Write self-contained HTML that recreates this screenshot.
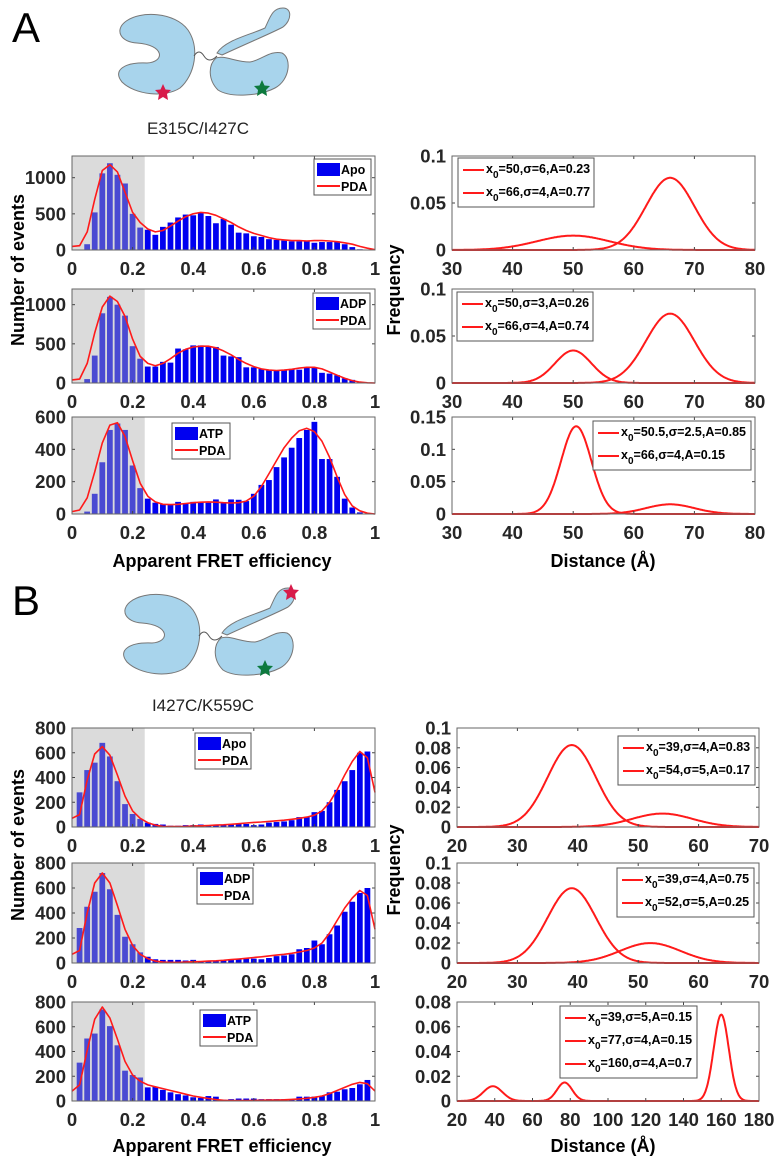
<!DOCTYPE html>
<html><head><meta charset="utf-8">
<style>
html,body{margin:0;padding:0;background:#fff;}
svg{display:block;font-family:"Liberation Sans",Arial,sans-serif;}
.tick{font-size:18.5px;font-weight:bold;fill:#262626;}
.ttl{font-size:18px;font-weight:bold;fill:#000;}
.leg{font-size:12.5px;font-weight:bold;fill:#000;}
</style></head>
<body>
<svg id="fig" width="774" height="1156" viewBox="0 0 774 1156">
  <text x="12" y="42" font-size="42" fill="#000">A</text>
  <text x="12" y="615" font-size="42" fill="#000">B</text>
  <g id="cartoonA">
    <path d="M137,43 C120,42 115,30 125,22 C140,10 175,12 188,30 C200,48 195,75 180,88 C165,98 135,95 122,82 C112,70 125,62 147,63 C165,62 165,45 137,43 Z" fill="#a8d4ec" stroke="#777" stroke-width="1"/>
    <path d="M194,56 q5,-8 10,0 t 13,0" fill="none" stroke="#555" stroke-width="1"/>
    <path d="M216,58 C225,55 235,62 250,62 C262,60 270,50 282,53 C292,58 290,80 275,88 C260,96 230,98 218,90 C208,80 208,65 216,58 Z" fill="#a8d4ec" stroke="#777" stroke-width="1"/>
    <path d="M217,53 C225,40 250,35 265,28 C270,18 272,8 283,8 C292,8 292,20 283,27 C272,33 250,42 222,55 Z" fill="#a8d4ec" stroke="#777" stroke-width="1"/>
    <polygon points="163,84 165.5,89.5 171,90 167,94 168,100 163,97 158,100 159,94 155,90 160.5,89.5" fill="#d81b4a"/>
    <polygon points="262,80 264.5,85.5 270,86 266,90 267,96 262,93 257,96 258,90 254,86 259.5,85.5" fill="#0d7a3e"/>
  </g>
  <text x="198" y="134" font-size="17" text-anchor="middle" fill="#222">E315C/I427C</text>
  <g transform="translate(5,580)">
    <path d="M137,43 C120,42 115,30 125,22 C140,10 175,12 188,30 C200,48 195,75 180,88 C165,98 135,95 122,82 C112,70 125,62 147,63 C165,62 165,45 137,43 Z" fill="#a8d4ec" stroke="#777" stroke-width="1"/>
    <path d="M194,56 q5,-8 10,0 t 13,0" fill="none" stroke="#555" stroke-width="1"/>
    <path d="M216,58 C225,55 235,62 250,62 C262,60 270,50 282,53 C292,58 290,80 275,88 C260,96 230,98 218,90 C208,80 208,65 216,58 Z" fill="#a8d4ec" stroke="#777" stroke-width="1"/>
    <path d="M217,53 C225,40 250,35 265,28 C270,18 272,8 283,8 C292,8 292,20 283,27 C272,33 250,42 222,55 Z" fill="#a8d4ec" stroke="#777" stroke-width="1"/>
    <polygon points="286,4 288.5,9.5 294,10 290,14 291,20 286,17 281,20 282,14 278,10 283.5,9.5" fill="#d81b4a"/>
    <polygon points="260,80 262.5,85.5 268,86 264,90 265,96 260,93 255,96 256,90 252,86 257.5,85.5" fill="#0d7a3e"/>
  </g>
  <text x="203" y="711" font-size="17" text-anchor="middle" fill="#222">I427C/K559C</text>

  <text transform="translate(24,270) rotate(-90)" class="ttl" text-anchor="middle">Number of events</text>
  <text transform="translate(24,845) rotate(-90)" class="ttl" text-anchor="middle">Number of events</text>
  <text transform="translate(400,290) rotate(-90)" class="ttl" text-anchor="middle">Frequency</text>
  <text transform="translate(400,870) rotate(-90)" class="ttl" text-anchor="middle">Frequency</text>
  <text x="222" y="567" class="ttl" text-anchor="middle">Apparent FRET efficiency</text>
  <text x="222" y="1152" class="ttl" text-anchor="middle">Apparent FRET efficiency</text>
  <text x="603" y="567" class="ttl" text-anchor="middle">Distance (Å)</text>
  <text x="603" y="1152" class="ttl" text-anchor="middle">Distance (Å)</text>
</svg>
<script>
// ---------- histogram data (bar centres at k*0.025) ----------
const binCentersA = [0.05,0.075,0.1,0.125,0.15,0.175,0.2,0.225,0.25,0.275,0.3,0.325,0.35,0.375,0.4,0.425,0.45,0.475,0.5,0.525,0.55,0.575,0.6,0.625,0.65,0.675,0.7,0.725,0.75,0.775,0.8,0.825,0.85,0.875,0.9,0.925,0.95,0.975];
const binCentersB = [0.025,0.05,0.075,0.1,0.125,0.15,0.175,0.2,0.225,0.25,0.275,0.3,0.325,0.35,0.375,0.4,0.425,0.45,0.475,0.5,0.525,0.55,0.575,0.6,0.625,0.65,0.675,0.7,0.725,0.75,0.775,0.8,0.825,0.85,0.875,0.9,0.925,0.95,0.975];
const pdaX = [0,0.025,0.05,0.075,0.1,0.125,0.15,0.175,0.2,0.225,0.25,0.275,0.3,0.325,0.35,0.375,0.4,0.425,0.45,0.475,0.5,0.525,0.55,0.575,0.6,0.625,0.65,0.675,0.7,0.725,0.75,0.775,0.8,0.825,0.85,0.875,0.9,0.925,0.95,0.975,1];

const apoA = [80,520,1060,1200,1040,920,500,310,280,210,320,380,450,490,480,520,470,370,430,350,240,230,190,180,150,140,130,120,120,120,100,110,110,120,80,40,10,0];
const apoAPda = [50,60,250,700,1100,1180,1080,800,520,380,290,250,270,330,400,460,500,520,510,480,430,380,320,270,230,200,170,150,140,130,130,125,130,130,125,115,100,80,50,25,5];
const adpA = [50,350,890,1100,1000,860,470,310,210,210,270,260,440,430,480,480,470,460,350,340,330,200,200,180,160,160,160,180,170,200,200,130,120,100,60,40,10,0];
const adpAPda = [40,50,250,640,970,1110,1040,850,560,340,250,220,250,310,380,430,460,470,470,450,410,360,300,250,210,180,165,160,165,175,190,200,200,180,140,100,60,30,12,3,0];
const atpA = [15,125,320,520,560,520,300,160,95,70,60,60,75,65,75,75,70,90,70,90,88,80,125,180,210,290,350,410,470,520,570,340,340,230,95,40,10,0];
const atpAPda = [15,25,100,260,440,550,565,480,330,190,110,75,60,58,60,65,70,73,75,73,70,68,70,80,110,170,250,330,410,470,515,530,510,450,350,230,120,50,20,5,0];

const apoB = [280,460,520,680,570,370,185,105,65,35,25,20,10,10,15,15,20,10,15,15,20,25,25,15,20,35,40,45,55,80,80,120,130,200,300,370,460,600,610];
const apoBPda = [70,100,380,590,650,580,420,250,130,70,35,15,5,3,3,5,8,10,12,15,18,22,27,32,37,40,45,50,55,62,70,80,95,130,200,300,420,530,610,560,280];
const adpB = [280,450,570,720,590,385,210,150,85,50,30,25,25,25,20,25,15,15,20,20,30,35,35,35,30,40,55,60,70,110,120,180,150,230,300,410,490,560,600];
const adpBPda = [70,100,400,640,720,640,460,270,140,70,35,15,8,5,5,7,10,12,15,18,22,27,32,38,44,50,57,63,70,78,88,100,120,160,240,340,440,520,580,540,270];
const atpB = [310,505,545,740,605,450,245,210,190,110,115,90,70,55,45,30,25,40,35,10,15,20,20,20,15,15,15,15,15,35,35,35,40,70,75,95,105,135,170];
const atpBPda = [80,130,410,660,760,670,500,320,210,160,130,115,100,85,70,55,40,30,20,12,6,4,4,4,5,6,7,8,10,13,17,22,30,40,60,85,110,135,150,140,80];

const fretTicks = [0,0.2,0.4,0.6,0.8,1];
const fretTickLabels = ["0","0.2","0.4","0.6","0.8","1"];
const countTicksA1 = [0,500,1000];
const countTicksA2 = [0,500,1000];
const countTicksA3 = [0,200,400,600];
const countTicksB = [0,200,400,600,800];

// ---------- gaussian fit parameters ----------
const gA1_x0 = [50,66], gA1_sigma = [6,4], gA1_amp = [0.23,0.77];
const gA2_x0 = [50,66], gA2_sigma = [3,4], gA2_amp = [0.26,0.74];
const gA3_x0 = [50.5,66], gA3_sigma = [2.5,4], gA3_amp = [0.85,0.15];
const gB1_x0 = [39,54], gB1_sigma = [4,5], gB1_amp = [0.83,0.17];
const gB2_x0 = [39,52], gB2_sigma = [4,5], gB2_amp = [0.75,0.25];
const gB3_x0 = [39,77,160], gB3_sigma = [5,4,4], gB3_amp = [0.15,0.15,0.7];
const gA1_labels = ["=50,σ=6,A=0.23","=66,σ=4,A=0.77"];
const gA2_labels = ["=50,σ=3,A=0.26","=66,σ=4,A=0.74"];
const gA3_labels = ["=50.5,σ=2.5,A=0.85","=66,σ=4,A=0.15"];
const gB1_labels = ["=39,σ=4,A=0.83","=54,σ=5,A=0.17"];
const gB2_labels = ["=39,σ=4,A=0.75","=52,σ=5,A=0.25"];
const gB3_labels = ["=39,σ=5,A=0.15","=77,σ=4,A=0.15","=160,σ=4,A=0.7"];
const distTicksA = [30,40,50,60,70,80];
const distTicksB = [20,30,40,50,60,70];
const distTicksB3 = [20,40,60,80,100,120,140,160,180];
const freqTicksA = [0,0.05,0.1];
const freqTicksA3 = [0,0.05,0.1,0.15];
const freqTicksB = [0,0.02,0.04,0.06,0.08,0.1];
const freqTicksB3 = [0,0.02,0.04,0.06,0.08];

const NS = "http://www.w3.org/2000/svg";
const svg = document.getElementById('fig');
function mk(tag, attrs, parent){
  const e = document.createElementNS(NS, tag);
  for (const k in attrs) e.setAttribute(k, attrs[k]);
  (parent||svg).appendChild(e);
  return e;
}
function fmt(v){ return String(+v.toFixed(3)); }

function axesFrame(g, L, R, T, B, xTicks, xLabels, sx, yTicks, sy, prefix){
  const bg = mk('rect',{x:L,y:T,width:R-L,height:B-T,fill:'#fff'},g);
  
  
  xTicks.forEach((t,i)=>{
    const x = sx(t);
    const lab = mk('text',{x:x,y:B+25,'text-anchor':'middle',class:'tick'},g);
    lab.textContent = xLabels[i];
    
    
  });
  yTicks.forEach(t=>{
    const y = sy(t);
    const lab = mk('text',{x:L-6,y:y+6.5,'text-anchor':'end',class:'tick'},g);
    lab.textContent = fmt(t);
    
    
  });
}
function ticksAndBox(g, L, R, T, B, xTicks, sx, yTicks, sy){
  xTicks.forEach(t=>{ const x=sx(t);
    mk('line',{x1:x,x2:x,y1:B,y2:B-3,stroke:'#444','stroke-width':1},g);
    mk('line',{x1:x,x2:x,y1:T,y2:T+3,stroke:'#444','stroke-width':1},g);});
  yTicks.forEach(t=>{ const y=sy(t);
    mk('line',{x1:L,x2:L+3,y1:y,y2:y,stroke:'#444','stroke-width':1},g);
    mk('line',{x1:R,x2:R-3,y1:y,y2:y,stroke:'#444','stroke-width':1},g);});
  mk('rect',{x:L,y:T,width:R-L,height:B-T,fill:'none',stroke:'#666','stroke-width':1},g);
}

function histPanel(name, L, R, T, B, ymax, yTicks, centers, counts, pda, leg, label){
  const g = mk('g',{});
  
  
  const sx = v => L + v*(R-L);
  const sy = v => B - v/ymax*(B-T);
  axesFrame(g,L,R,T,B,fretTicks,fretTickLabels,sx,yTicks,sy,name);
  const bw = 0.019*(R-L);
  centers.forEach((c,i)=>{
    const r = mk('rect',{x:sx(c)-bw/2,y:sy(counts[i]),width:bw,height:B-sy(counts[i]),fill:'#0000f0'},g);
    
    
  });
  const shade = mk('rect',{x:L,y:T,width:sx(0.24)-L,height:B-T,fill:'#acacac','fill-opacity':0.43},g);
  
  
  const pts = pdaX.map((x,i)=>sx(x).toFixed(1)+','+sy(pda[i]).toFixed(1)).join(' ');
  const ln = mk('polyline',{points:pts,fill:'none',stroke:'#ff1a1a','stroke-width':1.6,'stroke-linejoin':'round'},g);
  
  
  ticksAndBox(g,L,R,T,B,fretTicks,sx,yTicks,sy);
  const lg = mk('g',{},g);
  
  
  mk('rect',{x:leg[0],y:leg[1],width:leg[2],height:36,fill:'#fff',stroke:'#555','stroke-width':1},lg);
  mk('rect',{x:leg[0]+3,y:leg[1]+4,width:23,height:13,fill:'#0000f0'},lg);
  const t1 = mk('text',{x:leg[0]+27,y:leg[1]+15,class:'leg'},lg); t1.textContent = label;
  
  
  mk('line',{x1:leg[0]+3,x2:leg[0]+26,y1:leg[1]+27,y2:leg[1]+27,stroke:'#ff1a1a','stroke-width':2},lg);
  const t2 = mk('text',{x:leg[0]+27,y:leg[1]+32,class:'leg'},lg); t2.textContent = 'PDA';
  
  
}

function gaussPanel(name, L, R, T, B, xmin, xmax, ymax, xTicks, yTicks, x0s, sigs, amps, labels, leg){
  const g = mk('g',{});
  
  
  const sx = v => L + (v-xmin)/(xmax-xmin)*(R-L);
  const sy = v => B - v/ymax*(B-T);
  axesFrame(g,L,R,T,B,xTicks,xTicks.map(String),sx,yTicks,sy,name);
  x0s.forEach((x0,k)=>{
    const s = sigs[k], a = amps[k], pts=[];
    for(let i=0;i<=400;i++){
      const x = xmin + (xmax-xmin)*i/400;
      const y = a/(s*Math.sqrt(2*Math.PI))*Math.exp(-0.5*((x-x0)/s)**2);
      pts.push(sx(x).toFixed(1)+','+sy(y).toFixed(1));
    }
    const ln = mk('polyline',{points:pts.join(' '),fill:'none',stroke:'#ff1a1a','stroke-width':2},g);
    
    
  });
  ticksAndBox(g,L,R,T,B,xTicks,sx,yTicks,sy);
  const lg = mk('g',{},g);
  
  
  const h = labels.length*23+3;
  mk('rect',{x:leg[0],y:leg[1],width:leg[2],height:h,fill:'#fff',stroke:'#555','stroke-width':1},lg);
  labels.forEach((lab,k)=>{
    const y = leg[1]+15+k*23;
    mk('line',{x1:leg[0]+5,x2:leg[0]+26,y1:y-3,y2:y-3,stroke:'#ff1a1a','stroke-width':2},lg);
    const t = mk('text',{x:leg[0]+28,y:y,class:'leg'},lg);
    
    
    const a = mk('tspan',{},t); a.textContent='x';
    const b = mk('tspan',{dy:5,'font-size':'10'},t); b.textContent='0';
    const c = mk('tspan',{dy:-5},t); c.textContent=lab;
  });
}

histPanel('hist-a-apo',72,375,156,250,1300,countTicksA1,binCentersA,apoA,apoAPda,[314,159,57],'Apo');
histPanel('hist-a-adp',72,375,289,383,1200,countTicksA2,binCentersA,adpA,adpAPda,[313,293,57],'ADP');
histPanel('hist-a-atp',72,375,417,514,600,countTicksA3,binCentersA,atpA,atpAPda,[172,423,58],'ATP');
histPanel('hist-b-apo',72,375,728,827,800,countTicksB,binCentersB,apoB,apoBPda,[195,733,56],'Apo');
histPanel('hist-b-adp',72,375,863,963,800,countTicksB,binCentersB,adpB,adpBPda,[197,868,56],'ADP');
histPanel('hist-b-atp',72,375,1002,1101,800,countTicksB,binCentersB,atpB,atpBPda,[200,1010,57],'ATP');
gaussPanel('dist-a-apo',452,755,156,250,30,80,0.1,distTicksA,freqTicksA,gA1_x0,gA1_sigma,gA1_amp,gA1_labels,[458,158,136]);
gaussPanel('dist-a-adp',452,755,289,383,30,80,0.1,distTicksA,freqTicksA,gA2_x0,gA2_sigma,gA2_amp,gA2_labels,[457,292,136]);
gaussPanel('dist-a-atp',452,755,417,514,30,80,0.15,distTicksA,freqTicksA3,gA3_x0,gA3_sigma,gA3_amp,gA3_labels,[593,421,158]);
gaussPanel('dist-b-apo',457,759,728,827,20,70,0.1,distTicksB,freqTicksB,gB1_x0,gB1_sigma,gB1_amp,gB1_labels,[618,736,137]);
gaussPanel('dist-b-adp',457,759,863,963,20,70,0.1,distTicksB,freqTicksB,gB2_x0,gB2_sigma,gB2_amp,gB2_labels,[617,868,137]);
gaussPanel('dist-b-atp',457,759,1002,1101,20,180,0.08,distTicksB3,freqTicksB3,gB3_x0,gB3_sigma,gB3_amp,gB3_labels,[560,1006,137]);
</script>
</body></html>
